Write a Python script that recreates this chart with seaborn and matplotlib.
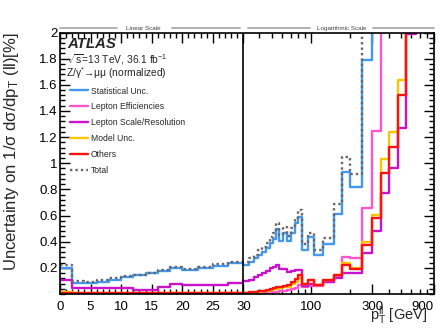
import numpy as np
import pandas as pd
import matplotlib
matplotlib.use("Agg")
import matplotlib.pyplot as plt
from matplotlib.lines import Line2D
import matplotlib.ticker as mticker
import seaborn as sns

# ---------------- data ----------------
edges = [0, 2, 4, 6, 8, 10, 12, 14, 16, 18, 20, 22.5, 25, 27.5, 30,
         33, 36, 39, 42, 45, 48, 51, 54, 57, 61, 65, 70, 75, 80, 85,
         95, 105, 125, 150, 175, 200, 250, 300, 350, 400, 470, 550, 650, 900]

stat_unc = [0.197, 0.087, 0.082, 0.094, 0.11, 0.13, 0.145, 0.16, 0.176, 0.197, 0.18, 0.197, 0.217, 0.235,
            0.222, 0.248, 0.273, 0.299, 0.324, 0.35, 0.388, 0.42, 0.496, 0.406, 0.47, 0.406, 0.47, 0.54, 0.592,
            0.337, 0.434, 0.30, 0.38, 0.61, 0.93, 0.82, 1.79, 3.0, 3.5, 4.0, 5.0, 6.0, 8.0]

lep_eff = [0.004, 0.003, 0.003, 0.003, 0.003, 0.003, 0.003, 0.003, 0.003, 0.003, 0.003, 0.003, 0.003, 0.004,
           0.004, 0.005, 0.006, 0.008, 0.01, 0.012, 0.014, 0.016, 0.018, 0.02, 0.025, 0.03, 0.04, 0.045, 0.07,
           0.05, 0.06, 0.06, 0.09, 0.13, 0.286, 0.273, 0.657, 1.25, 2.5, 3.0, 3.5, 4.0, 5.0]

lep_scale = [0.107, 0.044, 0.044, 0.044, 0.044, 0.044, 0.031, 0.031, 0.051, 0.074, 0.067, 0.067, 0.067, 0.082,
             0.10, 0.11, 0.128, 0.146, 0.158, 0.176, 0.197, 0.205, 0.222, 0.19, 0.19, 0.171, 0.175, 0.18, 0.184,
             0.06, 0.08, 0.07, 0.09, 0.12, 0.16, 0.158, 0.31, 0.48, 0.77, 0.963, 1.27, 1.99, 3.0]

model_unc = [0.018, 0.008, 0.006, 0.005, 0.005, 0.005, 0.005, 0.005, 0.005, 0.005, 0.005, 0.006, 0.006, 0.007,
             0.007, 0.01, 0.013, 0.016, 0.02, 0.024, 0.028, 0.036, 0.04, 0.044, 0.05, 0.056, 0.075, 0.09, 0.12,
             0.074, 0.105, 0.07, 0.105, 0.145, 0.24, 0.20, 0.40, 0.605, 1.03, 1.236, 1.64, 3.0, 4.0]

others = [0.01, 0.008, 0.008, 0.008, 0.008, 0.008, 0.008, 0.008, 0.008, 0.008, 0.008, 0.008, 0.008, 0.008,
          0.008, 0.012, 0.016, 0.02, 0.025, 0.03, 0.035, 0.045, 0.05, 0.055, 0.06, 0.07, 0.094, 0.112, 0.146,
          0.074, 0.105, 0.07, 0.105, 0.145, 0.222, 0.19, 0.375, 0.58, 0.925, 1.124, 1.52, 3.0, 4.0]

total = [0.225, 0.098, 0.094, 0.104, 0.119, 0.138, 0.149, 0.164, 0.183, 0.208, 0.191, 0.207, 0.227, 0.246,
         0.245, 0.272, 0.302, 0.333, 0.361, 0.392, 0.436, 0.468, 0.545, 0.45, 0.51, 0.445, 0.505, 0.58, 0.645,
         0.38, 0.47, 0.34, 0.43, 0.69, 1.05, 0.92, 2.05, 3.5, 4.0, 5.0, 6.0, 7.0, 9.0]

labels = ["Statistical Unc.", "Lepton Efficiencies", "Lepton Scale/Resolution",
          "Model Unc.", "Others", "Total"]
x_tick_vals = [0, 5, 10, 15, 20, 25, 30, 100, 300, 900]
x_tick_labels = ["0", "5", "10", "15", "20", "25", "30", "100", "300", "900"]
y_tick_vals = [0.2, 0.4, 0.6, 0.8, 1.0, 1.2, 1.4, 1.6, 1.8, 2.0]
y_tick_labels = ["0.2", "0.4", "0.6", "0.8", "1", "1.2", "1.4", "1.6", "1.8", "2"]

# ---------------- style ----------------
sns.set_theme(style="ticks")
plt.rcParams["font.family"] = ["Liberation Sans", "DejaVu Sans"]
plt.rcParams["mathtext.fontset"] = "custom"
plt.rcParams["mathtext.rm"] = "Liberation Sans"
plt.rcParams["mathtext.it"] = "Liberation Sans:italic"
plt.rcParams["mathtext.bf"] = "Liberation Sans:bold"

colors = ["#4499ee", "#ff55cc", "#cc11cc", "#ffc400", "#ff1111", "#666666"]

W, H = 441, 329
fig = plt.figure(figsize=(W / 100, H / 100), dpi=100)
fig.patch.set_facecolor("white")
ax_l, ax_r, ax_t, ax_b = 60, 434, 32.5, 294
ax = fig.add_axes([ax_l / W, 1 - ax_b / H, (ax_r - ax_l) / W, (ax_b - ax_t) / H])

K = 0.704


def fwd(x):
    x = np.asarray(x, dtype=float)
    with np.errstate(divide="ignore", invalid="ignore"):
        lg = 1 + K * np.log10(np.clip(x, 1e-9, None) / 30.0)
    return np.where(x <= 30, x / 30.0, lg)


def inv(y):
    y = np.asarray(y, dtype=float)
    with np.errstate(over="ignore"):
        ex = 30.0 * 10 ** ((y - 1) / K)
    return np.where(y <= 1, y * 30.0, ex)


ax.set_xscale("function", functions=(fwd, inv))

series = [stat_unc, lep_eff, lep_scale, model_unc, others, total]
for lab, vals, col in zip(labels, series, colors):
    df = pd.DataFrame({"pT": edges, "unc": list(vals) + [vals[-1]]})
    ls = (0, (1.0, 1.3)) if lab == "Total" else "-"
    sns.lineplot(data=df, x="pT", y="unc", ax=ax, color=col, lw=1.7,
                 drawstyle="steps-post", estimator=None, sort=False,
                 linestyle=ls, legend=False)

ax.axvline(30, color="black", lw=1.2, zorder=5)

ax.set_xlim(0, 900)
ax.set_ylim(0, 2)

ax.set_xticks(x_tick_vals)
ax.set_xticklabels(x_tick_labels)
minor_x = [v for v in range(1, 30) if v % 5 != 0] + [40, 50, 60, 70, 80, 90, 200, 400, 500, 600, 700, 800]
ax.xaxis.set_minor_locator(mticker.FixedLocator(minor_x))
ax.set_yticks(y_tick_vals)
ax.set_yticklabels(y_tick_labels)
ax.yaxis.set_minor_locator(mticker.MultipleLocator(0.04))

ax.tick_params(which="both", direction="in", top=True, right=True, colors="black",
               labelsize=9.5, width=1.0)
ax.tick_params(which="major", length=7)
ax.tick_params(which="minor", length=3.5)
ax.tick_params(axis="y", pad=1.5)
ax.tick_params(axis="x", pad=5)
for s in ax.spines.values():
    s.set_color("black")
    s.set_linewidth(1.2)
last = ax.get_xticklabels()[-1]
last.set_horizontalalignment("right")

ax.set_ylabel("Uncertainty on 1/σ dσ/dp$_{\\mathrm{T}}$ (ll)[%]", fontsize=12, loc="top")
ax.yaxis.set_label_coords(-0.105, 1.0)
ax.set_xlabel("p$_{\\mathrm{T}}^{\\mathrm{ll}}$ [GeV]", fontsize=10.5, loc="right")
ax.xaxis.set_label_coords(0.982, -0.038)

# scale headers
hy = 1.017
gray = "#aaaaaa"
for x0, x1 in [(0.0, 0.152), (0.30, 0.481), (0.503, 0.668), (0.837, 1.0)]:
    ax.plot([x0, x1], [hy, hy], transform=ax.transAxes, color=gray, lw=1.3, clip_on=False)
ax.text(0.222, hy, "Linear Scale", transform=ax.transAxes, fontsize=4.5, ha="center",
        va="center", color="#444444")
ax.text(0.753, hy, "Logarithmic Scale", transform=ax.transAxes, fontsize=4.5, ha="center",
        va="center", color="#444444")

# annotations
fig.text(67 / W, 1 - 44 / H, "ATLAS", fontsize=10.8, fontweight="bold", fontstyle="italic",
         va="center", ha="left")
fig.text(66 / W, 1 - 60 / H, "$\\sqrt{\\mathrm{s}}$=13 TeV, 36.1 fb$^{\\mathrm{-1}}$", fontsize=7.4,
         va="center", ha="left")
fig.text(66 / W, 1 - 73.5 / H, "Z/γ$^{*}$→μμ (normalized)", fontsize=7.4, va="center", ha="left")

handles = [Line2D([], [], color=c, lw=1.7,
                  linestyle=((0, (1.0, 1.3)) if l == "Total" else "-"))
           for l, c in zip(labels, colors)]
leg = fig.legend(handles, labels, loc="upper left", bbox_to_anchor=(69.5 / W, 1 - 86.5 / H),
                 frameon=False, fontsize=6.2, handlelength=2.1, handletextpad=0.35,
                 labelspacing=0.79, borderpad=0, borderaxespad=0)

fig.savefig("out.png", dpi=100, facecolor="white")
